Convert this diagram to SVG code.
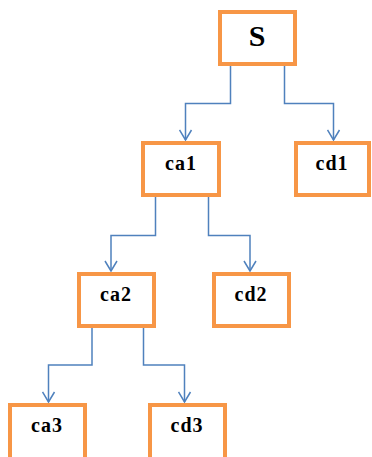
<svg xmlns="http://www.w3.org/2000/svg" width="372" height="457" viewBox="0 0 372 457">
  <style>
    .box { fill: #ffffff; stroke: #f79646; stroke-width: 4; }
    .label { font-family: "Liberation Serif", "Times New Roman", serif; font-weight: bold; font-size: 20px; letter-spacing: 1px; fill: #000000; text-anchor: middle; }
    .root { font-size: 30px; letter-spacing: 0; }
    .edge { fill: none; stroke: #4f81bd; stroke-width: 1.5; marker-end: url(#arrow); }
  </style>
  <defs>
    <!-- open V head drawn along +x, tip at the path end -->
    <marker id="arrow" markerUnits="userSpaceOnUse" markerWidth="14" markerHeight="14" refX="11" refY="7" orient="auto" viewBox="0 0 14 14">
      <path d="M1 1 L11 7 L1 13" fill="none" stroke="#4f81bd" stroke-width="1.5"/>
    </marker>
  </defs>
  <rect width="372" height="457" fill="#ffffff"/>

  <g id="connectors">
    <path class="edge" d="M230.5 66 V103.5 H185.5 V140"/>
    <path class="edge" d="M284.5 66 V103.5 H333.5 V140"/>
    <path class="edge" d="M155.5 197 V235.5 H111 V271"/>
    <path class="edge" d="M208.5 197 V235.5 H250 V271"/>
    <path class="edge" d="M92 328 V365 H48.5 V402"/>
    <path class="edge" d="M143.5 328 V365 H184.5 V402"/>
  </g>

  <g id="node-S">
    <rect class="box" x="220" y="12" width="75" height="52"/>
    <text class="label root" x="257" y="46">S</text>
  </g>
  <g id="node-ca1">
    <rect class="box" x="143" y="143" width="76" height="52"/>
    <text class="label" x="181" y="170">ca1</text>
  </g>
  <g id="node-cd1">
    <rect class="box" x="296" y="143" width="73" height="52"/>
    <text class="label" x="332" y="170">cd1</text>
  </g>
  <g id="node-ca2">
    <rect class="box" x="79" y="274" width="75" height="52"/>
    <text class="label" x="116" y="301">ca2</text>
  </g>
  <g id="node-cd2">
    <rect class="box" x="214" y="274" width="75" height="52"/>
    <text class="label" x="251" y="301">cd2</text>
  </g>
  <g id="node-ca3">
    <rect class="box" x="10" y="405" width="75" height="58"/>
    <text class="label" x="47" y="432">ca3</text>
  </g>
  <g id="node-cd3">
    <rect class="box" x="150" y="405" width="75" height="58"/>
    <text class="label" x="187" y="432">cd3</text>
  </g>
</svg>
